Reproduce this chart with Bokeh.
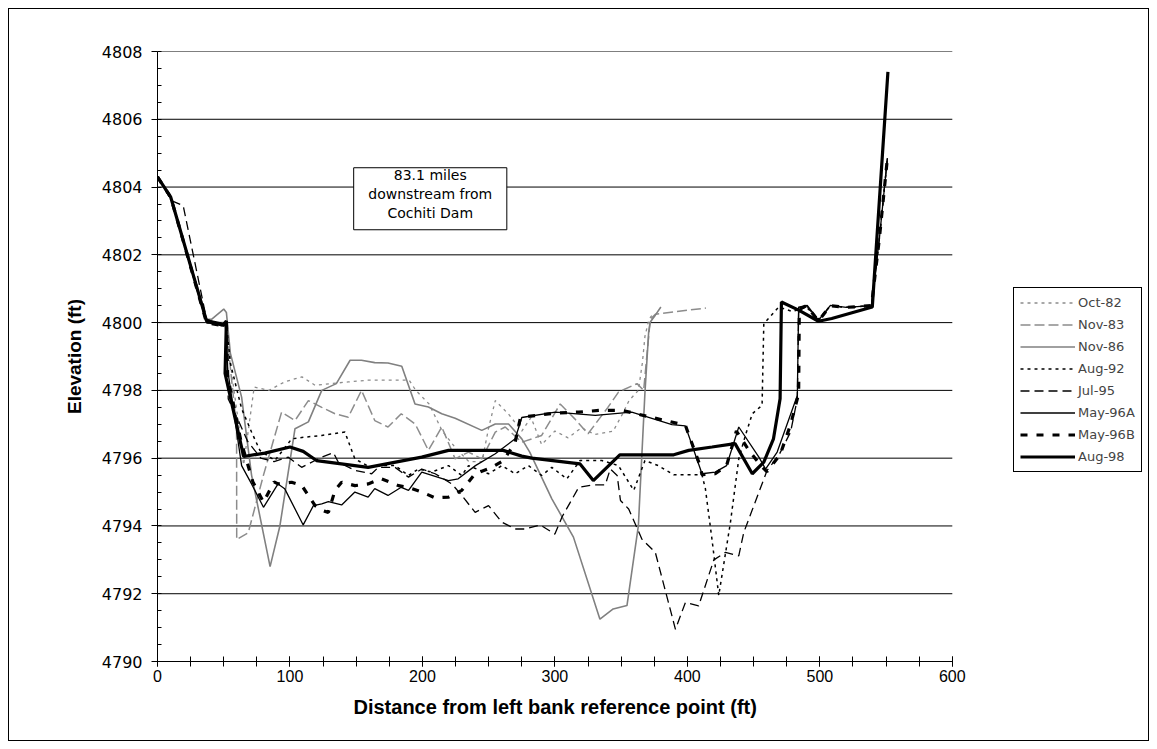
from bokeh.plotting import figure
from bokeh.models import (Range1d, SingleIntervalTicker, Legend, LegendItem,
                          Label, BoxAnnotation, Title)
from bokeh.embed import file_html
from bokeh.resources import INLINE

# ---------------- data (distance ft, elevation ft) ----------------
oct82_x = [0, 10, 37, 50, 52, 56, 62, 65, 73, 84, 96, 109, 119, 131, 144, 159, 175, 190,
           195, 205, 215, 225, 235, 245, 250, 255, 265, 275, 282, 290, 300, 310, 320, 330,
           344, 351, 356, 363, 366, 368, 371, 375]
oct82_y = [4804.3, 4803.7, 4800.0, 4799.9, 4800.0, 4798.5, 4796.8, 4795.8, 4798.1, 4798.0,
           4798.25, 4798.4, 4798.15, 4798.2, 4798.25, 4798.3, 4798.3, 4798.3, 4798.0, 4797.6,
           4796.8, 4796.3, 4795.9, 4795.9, 4796.9, 4797.7, 4797.3, 4796.8, 4797.2, 4796.4,
           4796.8, 4796.6, 4796.9, 4796.7, 4796.8, 4797.3, 4797.7, 4798.0, 4798.8, 4799.6,
           4800.1, 4800.3]

nov83_x = [0, 10, 37, 50, 52, 59.7, 59.8, 68.5, 80, 93.7, 103.8, 113.9, 124, 134, 144, 154,
           164, 174, 184, 194.5, 204.5, 214.6, 224.7, 234.8, 244.8, 255, 262.5, 275, 290,
           304, 315, 325, 340, 348, 362, 367, 372, 376, 414]
nov83_y = [4804.3, 4803.7, 4800.0, 4800.0, 4799.8, 4796.9, 4793.6, 4793.8, 4795.5, 4797.36,
           4797.11, 4797.7, 4797.5, 4797.31, 4797.21, 4798.0, 4797.11, 4796.92, 4797.31,
           4797.01, 4796.23, 4796.92, 4795.98, 4796.18, 4795.98, 4796.77, 4796.92, 4796.47,
           4796.67, 4797.6, 4797.16, 4796.72, 4797.5, 4797.95, 4798.2, 4798.0, 4800.1,
           4800.25, 4800.43]

nov86_x = [0, 10, 37, 41, 50, 52, 55, 63.5, 71, 85, 92.4, 103.8, 113.9, 124, 135, 145.4, 154,
           164, 174, 184.4, 194.4, 204.5, 214.6, 224.7, 244.8, 255, 265, 275, 281, 297.7, 314,
           334, 344, 354.4, 363, 368, 370.8, 372, 375.8, 380]
nov86_y = [4804.3, 4803.7, 4800.1, 4800.1, 4800.4, 4800.3, 4799.1, 4797.8, 4795.5, 4792.8,
           4794.0, 4796.87, 4797.07, 4798.0, 4798.2, 4798.89, 4798.89, 4798.82, 4798.81,
           4798.71, 4797.6, 4797.51, 4797.31, 4797.18, 4796.82, 4797.01, 4797.01, 4796.57,
           4796.18, 4794.8, 4793.67, 4791.25, 4791.55, 4791.65, 4794.0, 4797.95, 4799.73,
           4800.02, 4800.22, 4800.46]

aug92_x = [0, 10, 37, 50, 52, 55, 63.5, 71, 77.3, 88.6, 101.3, 111.3, 124, 141.5, 146.6, 149,
           160.5, 169, 179.3, 189.5, 197, 207, 219.7, 229.7, 234.8, 249.9, 260, 270, 280, 290,
           297.7, 309, 319, 335.5, 348, 359.5, 368, 378, 389.7, 411, 413.6, 418.6, 423.7,
           432.5, 438.8, 443.8, 449, 456.4, 457.7, 469, 479, 490, 499, 508, 520, 539, 545, 551]
aug92_y = [4804.3, 4803.7, 4800.0, 4799.9, 4800.0, 4798.8, 4797.46, 4796.77, 4796.23, 4795.93,
           4796.57, 4796.62, 4796.67, 4796.77, 4796.23, 4795.98, 4795.73, 4795.78, 4795.78,
           4795.49, 4795.68, 4795.59, 4795.78, 4795.49, 4795.78, 4795.54, 4795.78, 4795.54,
           4795.78, 4795.49, 4795.73, 4795.39, 4795.93, 4795.93, 4795.78, 4795.05, 4795.93,
           4795.78, 4795.51, 4795.51, 4795.1, 4793.6, 4791.95, 4794.1, 4795.98, 4796.67,
           4797.31, 4797.56, 4799.97, 4800.46, 4800.33, 4800.45, 4800.1, 4800.5, 4800.45,
           4800.5, 4802.5, 4804.85]

jul95_x = [0, 10.6, 19.4, 37, 50, 52, 53.4, 60, 68, 78, 88, 98.8, 108.8, 118.9, 124, 132.8,
           136.5, 149, 161.7, 166.7, 179.3, 189.5, 199.5, 209.6, 222.2, 229.7, 239.8, 249.9,
           260, 270, 277.6, 289, 300, 305.3, 318, 329, 338, 341.8, 347, 349.5, 355.7, 365.7,
           375.8, 391, 398.5, 408.5, 420, 428.7, 438.8, 442.6, 460.2, 469, 477.9, 483, 484,
           490, 499, 508, 520, 539, 545, 551]
jul95_y = [4804.3, 4803.6, 4803.45, 4800.1, 4799.9, 4800.0, 4797.75, 4797.2, 4796.5, 4796.0,
           4795.9, 4796.03, 4795.73, 4795.93, 4796.03, 4796.16, 4795.88, 4795.64, 4795.54,
           4795.73, 4795.73, 4795.44, 4795.68, 4795.54, 4795.24, 4794.9, 4794.4, 4794.6,
           4794.11, 4793.91, 4793.91, 4794.03, 4793.76, 4794.26, 4795.14, 4795.21, 4795.21,
           4795.68, 4795.49, 4794.75, 4794.5, 4793.61, 4793.22, 4790.95, 4791.74, 4791.64,
           4793.0, 4793.22, 4793.12, 4793.81, 4795.64, 4796.08, 4796.77, 4797.75, 4800.3,
           4800.5, 4800.05, 4800.5, 4800.45, 4800.5, 4802.5, 4804.85]

may96a_x = [0, 10, 37, 50, 52, 53, 63.5, 71, 80, 91, 96, 110, 117.7, 124, 129, 139, 149, 159,
            164, 174, 184, 189.5, 199.5, 219.7, 227, 240, 255, 270, 275, 300.3, 330.5, 358,
            388.4, 398.5, 409.8, 411, 421, 429.6, 438.8, 454, 459, 467.8, 483, 484, 490.5, 499,
            508, 520, 539, 545, 551]
may96a_y = [4804.3, 4803.7, 4800.0, 4799.9, 4800.0, 4798.6, 4795.78, 4795.24, 4794.55, 4795.24,
            4795.1, 4794.03, 4794.6, 4794.65, 4794.72, 4794.62, 4795.0, 4794.85, 4795.1,
            4794.9, 4795.14, 4795.05, 4795.59, 4795.34, 4795.39, 4795.78, 4796.13, 4796.57,
            4797.2, 4797.36, 4797.26, 4797.36, 4796.99, 4796.95, 4795.68, 4795.54, 4795.59,
            4795.78, 4796.92, 4796.03, 4795.68, 4796.18, 4797.85, 4800.46, 4800.51, 4800.07,
            4800.51, 4800.45, 4800.5, 4802.5, 4804.85]

may96b_x = [0, 10, 37, 50, 52, 53, 63, 72, 80, 88, 91, 101.3, 108.8, 119, 125, 129, 134, 139,
            149, 159, 169, 182, 189.5, 199.5, 209.6, 219.7, 229.7, 239.8, 252.4, 261.2, 270,
            273.8, 275, 300.3, 318, 334, 350.6, 383.3, 398.5, 410, 411, 421, 429.6, 437, 447,
            455, 460, 470, 478, 484, 484.5, 490, 499, 508, 520, 539, 545, 551]
may96b_y = [4804.3, 4803.7, 4800.0, 4799.9, 4800.0, 4798.4, 4796.5, 4795.3, 4794.7, 4795.3,
            4795.24, 4795.29, 4795.2, 4794.6, 4794.45, 4794.4, 4795.05, 4795.29, 4795.19,
            4795.24, 4795.39, 4795.19, 4795.14, 4795.0, 4794.83, 4794.85, 4795.05, 4795.54,
            4795.73, 4795.93, 4796.47, 4797.16, 4797.21, 4797.33, 4797.36, 4797.41, 4797.41,
            4797.11, 4796.97, 4795.73, 4795.51, 4795.54, 4795.78, 4796.8, 4796.2, 4795.8,
            4795.6, 4796.1, 4797.0, 4797.9, 4800.4, 4800.5, 4800.05, 4800.5, 4800.45, 4800.5,
            4802.5, 4804.85]

aug98_x = [0, 10, 37, 50, 52, 51, 65, 81, 100, 110, 120, 159, 199.5, 219.7, 261, 275, 282.6,
           319, 329, 349, 389.7, 401, 418.6, 436, 449, 457.7, 465, 470, 471, 484, 499, 509,
           539.6, 551.4]
aug98_y = [4804.3, 4803.7, 4800.05, 4799.95, 4800.05, 4798.5, 4796.05, 4796.15, 4796.33,
           4796.2, 4795.93, 4795.73, 4796.03, 4796.23, 4796.23, 4796.06, 4796.0, 4795.83,
           4795.34, 4796.1, 4796.1, 4796.23, 4796.33, 4796.43, 4795.54, 4795.88, 4796.57,
           4797.75, 4800.61, 4800.37, 4800.04, 4800.12, 4800.46, 4807.4]

series_names = ["Oct-82", "Nov-83", "Nov-86", "Aug-92", "Jul-95", "May-96A", "May-96B", "Aug-98"]
series_x = [oct82_x, nov83_x, nov86_x, aug92_x, jul95_x, may96a_x, may96b_x, aug98_x]
series_y = [oct82_y, nov83_y, nov86_y, aug92_y, jul95_y, may96a_y, may96b_y, aug98_y]

# axis extents / horizontal grid levels
x_min, x_max = 0, 600
y_min, y_max = 4790, 4808
grid_levels = [4792, 4794, 4796, 4798, 4800, 4802, 4804, 4806, 4808]

styles = [
    dict(line_color="#8c8c8c", line_width=1.3, line_dash="3 4"),
    dict(line_color="#8c8c8c", line_width=1.5, line_dash="10 4"),
    dict(line_color="#808080", line_width=1.6, line_dash="solid"),
    dict(line_color="#000000", line_width=1.5, line_dash="3 4"),
    dict(line_color="#000000", line_width=1.3, line_dash="9 5"),
    dict(line_color="#000000", line_width=1.3, line_dash="solid"),
    dict(line_color="#000000", line_width=3.2, line_dash="7 9"),
    dict(line_color="#000000", line_width=3.2, line_dash="solid"),
]

FONT = "Liberation Sans"
WIDE = "DejaVu Sans"

# frame spans page x 156..1148; scale keeps 0..600 within 156..950
FRAME_W = 1148 - 156
x_view_max = x_max * FRAME_W / (950 - 156)

p = figure(width=1141, height=733, output_backend="svg", toolbar_location=None,
           x_range=Range1d(x_min, x_view_max), y_range=Range1d(y_min, y_max),
           min_border_left=148, min_border_right=0, min_border_top=42,
           min_border_bottom=81)
p.margin = (8, 8, 8, 8)
p.styles = {"border": "1px solid black"}
p.outline_line_color = None
p.background_fill_color = "white"
p.border_fill_color = "white"

p.xgrid.grid_line_color = None
p.ygrid.grid_line_color = None
p.segment(x0=[x_min] * len(grid_levels), x1=[x_max] * len(grid_levels),
          y0=grid_levels, y1=grid_levels, line_color="black", line_width=1)

p.xaxis.ticker = SingleIntervalTicker(interval=100, num_minor_ticks=4)
p.yaxis.ticker = SingleIntervalTicker(interval=2, num_minor_ticks=4)
p.xaxis.bounds = (x_min, x_max)

for ax in (p.xaxis[0], p.yaxis[0]):
    ax.axis_line_color = "black"
    ax.major_tick_line_color = "black"
    ax.minor_tick_line_color = "black"
    ax.major_label_text_color = "black"
    ax.axis_label_text_font = FONT
    ax.axis_label_text_font_style = "bold"
    ax.axis_label_text_color = "black"

p.xaxis.major_tick_in = 5
p.xaxis.major_tick_out = 5
p.xaxis.minor_tick_in = 5
p.xaxis.minor_tick_out = 5
p.xaxis.major_label_text_font = FONT
p.xaxis.major_label_text_font_size = "16px"
p.xaxis.major_label_standoff = 3

# x-axis title centred under the 0..600 span (not the wider frame)
xtitle = Title(text="Distance from left bank reference point (ft)", align="left",
               offset=196, text_font=FONT, text_font_style="bold",
               text_font_size="20px", text_color="black", standoff=18)
p.add_layout(xtitle, "below")

p.yaxis.major_tick_in = 0
p.yaxis.major_tick_out = 6
p.yaxis.minor_tick_in = 4
p.yaxis.minor_tick_out = 0
p.yaxis.major_label_text_font = WIDE
p.yaxis.major_label_text_font_size = "16px"
p.yaxis.major_label_standoff = 9
p.yaxis.axis_label = "Elevation (ft)"
p.yaxis.axis_label_text_font_size = "19px"
p.yaxis.axis_label_standoff = 14

renderers = []
for xs, ys, st in zip(series_x, series_y, styles):
    r = p.line(xs, ys, **st)
    renderers.append(r)

legend = Legend(items=[LegendItem(label=n, renderers=[r]) for n, r in zip(series_names, renderers)],
                location=(856, 189))
legend.border_line_color = "black"
legend.border_line_alpha = 1
legend.border_line_width = 1
legend.background_fill_color = "white"
legend.background_fill_alpha = 1
legend.label_text_font = WIDE
legend.label_text_font_size = "13px"
legend.glyph_width = 55
legend.glyph_height = 17
legend.label_height = 17
legend.label_standoff = 3
legend.spacing = 5
legend.padding = 6
legend.margin = 0
p.add_layout(legend, "center")

box = BoxAnnotation(left=148.1, right=263.7, top=4804.57, bottom=4802.74,
                    fill_color="white", fill_alpha=1, line_color="black",
                    line_alpha=1, line_width=1)
p.add_layout(box)
note = Label(x=205.9, y=4803.8, text="83.1 miles\ndownstream from\nCochiti Dam",
             text_align="center", text_baseline="middle", text_font=WIDE,
             text_font_size="14px", text_color="black", text_line_height=1.2)
p.add_layout(note)

open("out.html", "w").write(file_html(p, INLINE))
